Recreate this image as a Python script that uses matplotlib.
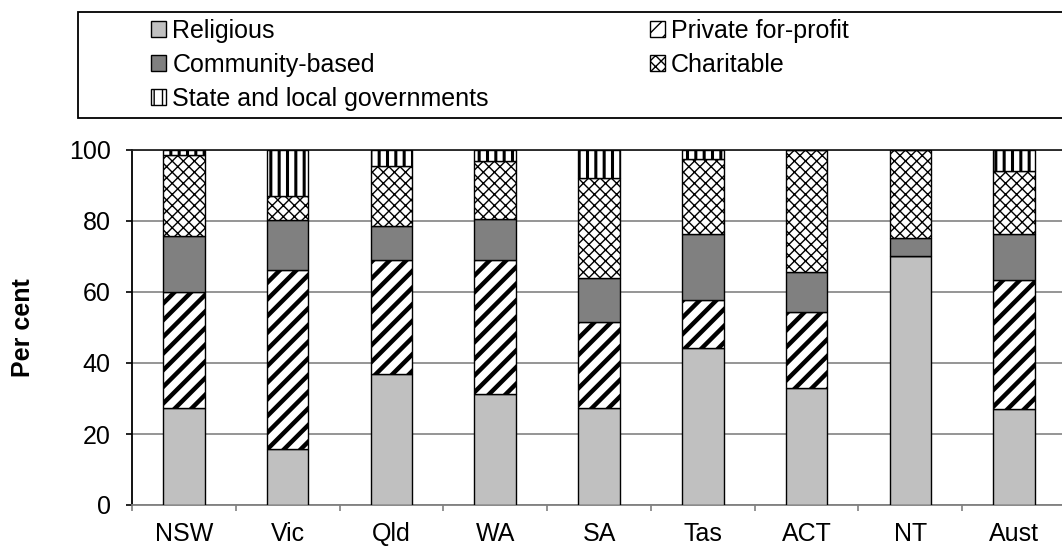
import numpy as np
import matplotlib
matplotlib.use("Agg")
import matplotlib.pyplot as plt
from matplotlib.patches import Rectangle

plt.rcParams['font.family'] = ['Liberation Sans', 'DejaVu Sans']

states = ["NSW", "Vic", "Qld", "WA", "SA", "Tas", "ACT", "NT", "Aust"]
religious = [27.4, 15.7, 37.0, 31.3, 27.4, 44.1, 33.0, 70.1, 27.0]
private = [32.5, 50.6, 32.1, 37.8, 24.1, 13.6, 21.5, 0.0, 36.5]
community = [15.8, 14.0, 9.5, 11.6, 12.5, 18.6, 11.1, 5.0, 12.8]
charitable = [23.0, 6.7, 16.9, 16.3, 28.0, 21.2, 34.4, 24.9, 17.9]
government = [1.4, 13.0, 4.5, 3.0, 8.0, 2.5, 0.0, 0.0, 5.8]

series = [
    ("Religious", religious, "#c0c0c0", "", 1.0),
    ("Private for-profit", private, "white", "//", 3.2),
    ("Community-based", community, "#808080", "", 1.0),
    ("Charitable", charitable, "white", "xxx", 1.0),
    ("State and local governments", government, "white", "||", 2.2),
]

fs = 18

fig = plt.figure(figsize=(10.62, 5.48), dpi=100)
ax = fig.add_axes([132 / 1062, 1 - 505 / 548, 934 / 1062, 355 / 548])

x = np.arange(len(states))
bottom = np.zeros(len(states))
handles = {}
for name, vals, col, hatch, hlw in series:
    with plt.rc_context({'hatch.linewidth': hlw}):
        bars = ax.bar(x, vals, 0.4, bottom=bottom, color=col, edgecolor="black",
                      linewidth=1.0, hatch=hatch if hatch else None, label=name, zorder=3)
        for b in bars:
            if hasattr(b, "set_hatch_linewidth"):
                b.set_hatch_linewidth(hlw)
    handles[name] = bars
    bottom += np.array(vals)

ax.set_xlim(-0.5, len(states) - 0.5)
ax.set_ylim(0, 100)
ax.set_yticks([0, 20, 40, 60, 80, 100])
ax.set_xticks(x)
ax.set_xticklabels(states)
ax.set_xticks(np.arange(-0.5, len(states), 1.0), minor=True)
ax.tick_params(axis='x', which='major', length=0, pad=12, labelsize=fs)
ax.tick_params(axis='x', which='minor', length=4, width=1.2, color="#808080", direction="out")
ax.tick_params(axis='y', length=4.3, width=1.2, pad=11, labelsize=fs)
ax.yaxis.grid(True, color="#8c8c8c", linewidth=1.3, zorder=0)
ax.set_axisbelow(True)

ax.set_ylabel("Per cent", fontsize=fs, fontweight="bold")
ax.yaxis.set_label_coords(-0.104, 0.5)

ax.spines['left'].set_linewidth(1.3)
ax.spines['bottom'].set_color("#808080")
ax.spines['bottom'].set_linewidth(1.3)
ax.spines['top'].set_color("#222222")
ax.spines['top'].set_linewidth(1.3)
ax.spines['right'].set_color("#222222")

# legend box (runs off the right edge like the original)
fig.patches.append(Rectangle((78 / 1062, 1 - 118 / 548), 1.0, 106 / 548,
                             transform=fig.transFigure, facecolor="white",
                             edgecolor="black", linewidth=1.3))
order = ["Religious", "Community-based", "State and local governments",
         "Private for-profit", "Charitable"]
leg = fig.legend([handles[n] for n in order], order, ncol=2,
                 loc="upper left", bbox_to_anchor=(151 / 1062, 1 - 19 / 548),
                 frameon=False, fontsize=fs, borderpad=0, borderaxespad=0,
                 handlelength=0.6, handleheight=0.6, handletextpad=0.25,
                 labelspacing=0.4, columnspacing=6.45)

fig.savefig("out.png", dpi=100)
